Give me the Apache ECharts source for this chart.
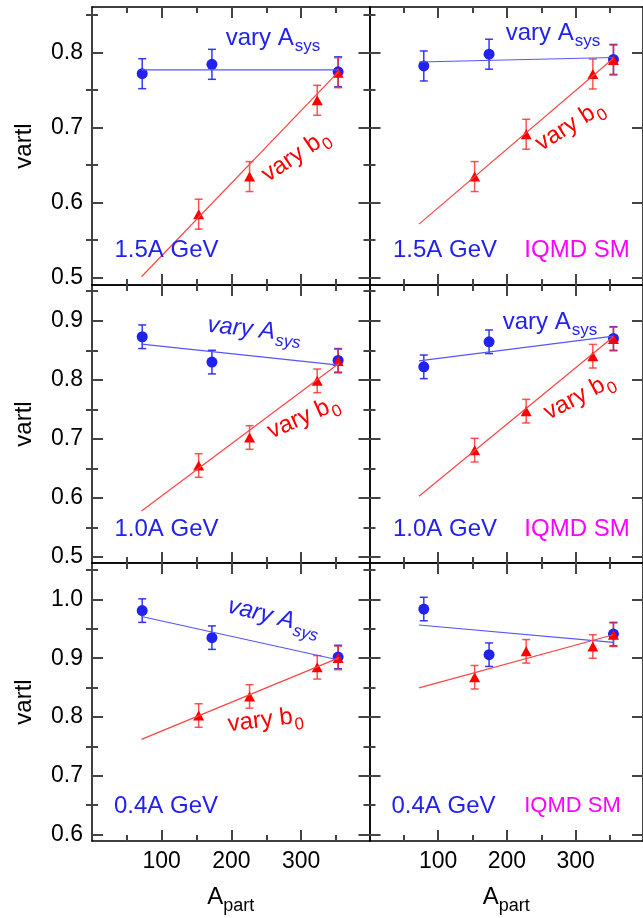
<!DOCTYPE html>
<html><head><meta charset="utf-8">
<script src="https://cdn.jsdelivr.net/npm/echarts@6/dist/echarts.min.js"></script>
<style>html,body{margin:0;padding:0;background:#fff}#c{width:643px;height:918px}</style>
</head><body><div id="c"></div>
<script>
// ---------------- data ----------------
// A_part positions of the points
const aSysXLeft  = [72, 172, 353];
const aSysXRight = [79, 174, 355];
const b0XLeft    = [153, 226, 323, 353];
const b0XRight   = [153, 228, 325, 355];
// end points of the straight fits
const fitXLeft  = [71, 354];
const fitXRight = [72, 355];

// 1.5A GeV
const aSys15   = [0.772, 0.7845, 0.7745];
const b015     = [0.5845, 0.6347, 0.7365, 0.7733];
const fitASys15 = [0.777, 0.777];
const fitB015   = [0.501, 0.775];
// 1.5A GeV, IQMD SM
const aSys15SM  = [0.7823, 0.798, 0.791];
const b015SM    = [0.6347, 0.6912, 0.7716, 0.7903];
const fitASys15SM = [0.7876, 0.7936];
const fitB015SM   = [0.5712, 0.7925];
// 1.0A GeV
const aSys10   = [0.8729, 0.830, 0.8329];
const b010     = [0.655, 0.7024, 0.7983, 0.8317];
const fitASys10 = [0.8605, 0.825];
const fitB010   = [0.578, 0.8278];
// 1.0A GeV, IQMD SM
const aSys10SM  = [0.822, 0.8644, 0.870];
const b010SM    = [0.681, 0.747, 0.840, 0.869];
const fitASys10SM = [0.8322, 0.874];
const fitB010SM   = [0.603, 0.873];
// 0.4A GeV
const aSys04   = [0.981, 0.935, 0.902];
const b004     = [0.8025, 0.835, 0.8845, 0.9005];
const fitASys04 = [0.971, 0.897];
const fitB004   = [0.762, 0.9005];
// 0.4A GeV, IQMD SM
const aSys04SM  = [0.9837, 0.906, 0.941];
const b004SM    = [0.8676, 0.9117, 0.92, 0.94];
const fitASys04SM = [0.9565, 0.927];
const fitB004SM   = [0.8496, 0.94];
// error bars (half widths)
const errASys = [0.02, 0.02, 0.02];
const errB0   = [0.02, 0.02, 0.02, 0.02];

// axis ticks
const xMajorTicks = [100, 200, 300];
const xMinorTicks = [50, 150, 250, 350];
const yMajorTicks = [[0.5, 0.6, 0.7, 0.8], [0.5, 0.6, 0.7, 0.8, 0.9], [0.6, 0.7, 0.8, 0.9, 1.0]];
const yMinorTicks = [[0.55, 0.65, 0.75, 0.85], [0.55, 0.65, 0.75, 0.85, 0.95], [0.65, 0.75, 0.85, 0.95, 1.05]];
const yRanges = [[0.49, 0.861], [0.49, 0.9605], [0.589, 1.062]];
const xRange = [0, 398];
const energyLabels = ['1.5A GeV', '1.0A GeV', '0.4A GeV'];
const modelLabel = 'IQMD SM';

// ---------------- layout / style ----------------
const FONT = '"Liberation Sans", Arial, Helvetica, sans-serif';
const BLUE = '#2222ee', RED = '#ff0000', MAGENTA = '#ff00ff';
const colLeft = [92, 369.5], colW = 277.5;
const rowTop = [7, 285, 563], rowH = 278;
const tickStyle = {color: '#444', width: 2};
const frameStyle = {color: '#000', width: 1.5};

const panels = [
  {r:0,c:0,aX:aSysXLeft,bX:b0XLeft,fX:fitXLeft,a:aSys15,b:b015,fa:fitASys15,fb:fitB015},
  {r:0,c:1,aX:aSysXRight,bX:b0XRight,fX:fitXRight,a:aSys15SM,b:b015SM,fa:fitASys15SM,fb:fitB015SM},
  {r:1,c:0,aX:aSysXLeft,bX:b0XLeft,fX:fitXLeft,a:aSys10,b:b010,fa:fitASys10,fb:fitB010},
  {r:1,c:1,aX:aSysXRight,bX:b0XRight,fX:fitXRight,a:aSys10SM,b:b010SM,fa:fitASys10SM,fb:fitB010SM},
  {r:2,c:0,aX:aSysXLeft,bX:b0XLeft,fX:fitXLeft,a:aSys04,b:b004,fa:fitASys04,fb:fitB004},
  {r:2,c:1,aX:aSysXRight,bX:b0XRight,fX:fitXRight,a:aSys04SM,b:b004SM,fa:fitASys04SM,fb:fitB004SM}
];

const grids = [], xAxes = [], yAxes = [], series = [];

panels.forEach((p, gi) => {
  grids.push({left: colLeft[p.c], top: rowTop[p.r], width: colW, height: rowH, containLabel: false});
  const [ymin, ymax] = yRanges[p.r];
  const xb = {gridIndex: gi, type: 'value', min: xRange[0], max: xRange[1], splitLine: {show: false}};
  const yb = {gridIndex: gi, type: 'value', min: ymin, max: ymax, splitLine: {show: false}};
  const xMainIdx = xAxes.length;
  const isBottom = p.r === 2;
  xAxes.push(Object.assign({}, xb, {
    position: 'bottom',
    axisLine: {show: true, onZero: false, lineStyle: frameStyle},
    axisTick: {show: true, inside: true, length: 11, customValues: xMajorTicks, lineStyle: tickStyle},
    axisLabel: {show: isBottom, customValues: xMajorTicks, margin: 9, fontSize: 23, color: '#000', fontFamily: FONT},
    name: isBottom ? '{a|A}{s|part}' : '',
    nameLocation: 'middle', nameGap: 48,
    nameTextStyle: {fontFamily: FONT, color: '#000', rich: {
      a: {fontSize: 24, fontFamily: FONT, color: '#000', lineHeight: 26, padding: [0, 0, 6, 0], verticalAlign: 'bottom'},
      s: {fontSize: 18, fontFamily: FONT, color: '#000', lineHeight: 18, verticalAlign: 'bottom'}
    }}
  }));
  xAxes.push(Object.assign({}, xb, {position: 'bottom', axisLine: {show: false},
    axisTick: {show: true, inside: true, length: 6, customValues: xMinorTicks, lineStyle: tickStyle}, axisLabel: {show: false}}));
  xAxes.push(Object.assign({}, xb, {position: 'top', axisLine: {show: true, onZero: false, lineStyle: frameStyle},
    axisTick: {show: true, inside: true, length: 11, customValues: xMajorTicks, lineStyle: tickStyle}, axisLabel: {show: false}}));
  xAxes.push(Object.assign({}, xb, {position: 'top', axisLine: {show: false},
    axisTick: {show: true, inside: true, length: 6, customValues: xMinorTicks, lineStyle: tickStyle}, axisLabel: {show: false}}));

  const yMainIdx = yAxes.length;
  const isLeft = p.c === 0;
  yAxes.push(Object.assign({}, yb, {
    position: 'left',
    axisLine: {show: true, onZero: false, lineStyle: frameStyle},
    axisTick: {show: true, inside: true, length: 11, customValues: yMajorTicks[p.r], lineStyle: tickStyle},
    axisLabel: {show: isLeft, customValues: yMajorTicks[p.r], margin: 9, fontSize: 23, color: '#000', fontFamily: FONT,
      formatter: v => Number(v).toFixed(1)},
    name: isLeft ? 'vartl' : '', nameLocation: 'middle', nameGap: 56,
    nameTextStyle: {fontSize: 24, fontFamily: FONT, color: '#000'}
  }));
  yAxes.push(Object.assign({}, yb, {position: 'left', axisLine: {show: false},
    axisTick: {show: true, inside: true, length: 6, customValues: yMinorTicks[p.r], lineStyle: tickStyle}, axisLabel: {show: false}}));
  yAxes.push(Object.assign({}, yb, {position: 'right', axisLine: {show: true, onZero: false, lineStyle: frameStyle},
    axisTick: {show: true, inside: true, length: 11, customValues: yMajorTicks[p.r], lineStyle: tickStyle}, axisLabel: {show: false}}));
  yAxes.push(Object.assign({}, yb, {position: 'right', axisLine: {show: false},
    axisTick: {show: true, inside: true, length: 6, customValues: yMinorTicks[p.r], lineStyle: tickStyle}, axisLabel: {show: false}}));

  const ax = {xAxisIndex: xMainIdx, yAxisIndex: yMainIdx};
  // fit lines
  series.push(Object.assign({type: 'line', symbol: 'none', silent: true, animation: false,
    data: p.fX.map((x, i) => [x, p.fa[i]]), lineStyle: {color: '#5555ff', width: 1.2}}, ax));
  series.push(Object.assign({type: 'line', symbol: 'none', silent: true, animation: false,
    data: p.fX.map((x, i) => [x, p.fb[i]]), lineStyle: {color: '#ff4444', width: 1.2}}, ax));
  // error bars
  const errSeries = (xs, ys, es, color) => Object.assign({
    type: 'custom', animation: false, silent: true,
    data: xs.map((x, i) => [x, ys[i] - es[i], ys[i] + es[i]]),
    encode: {x: 0, y: [1, 2]},
    renderItem: (params, api) => {
      const x = api.value(0);
      const p1 = api.coord([x, api.value(1)]), p2 = api.coord([x, api.value(2)]);
      const w = 4;
      const st = {stroke: color, lineWidth: 1.5};
      return {type: 'group', children: [
        {type: 'line', shape: {x1: p1[0], y1: p1[1], x2: p2[0], y2: p2[1]}, style: st},
        {type: 'line', shape: {x1: p1[0] - w, y1: p1[1], x2: p1[0] + w, y2: p1[1]}, style: st},
        {type: 'line', shape: {x1: p2[0] - w, y1: p2[1], x2: p2[0] + w, y2: p2[1]}, style: st}
      ]};
    }
  }, ax);
  series.push(errSeries(p.aX, p.a, errASys, 'rgba(34,34,238,0.9)'));
  series.push(Object.assign({type: 'scatter', symbol: 'circle', symbolSize: 11, animation: false,
    data: p.aX.map((x, i) => [x, p.a[i]]), itemStyle: {color: BLUE, opacity: 1}}, ax));
  series.push(errSeries(p.bX, p.b, errB0, 'rgba(255,40,40,0.8)'));
  series.push(Object.assign({type: 'scatter', symbol: 'triangle', symbolSize: [11, 10], animation: false,
    data: p.bX.map((x, i) => [x, p.b[i]]), itemStyle: {color: RED, opacity: 1}}, ax));
});

// ---------------- annotations ----------------
function richText(x, y, main, sub, color, opts) {
  opts = opts || {};
  const fs = opts.size || 22;
  return {
    type: 'text', x: x, y: y, rotation: (opts.rot || 0) * Math.PI / 180, z: 100,
    style: {
      text: sub ? '{m|' + main + '}{s|' + sub + '}' : '{m|' + main + '}',
      align: 'center', verticalAlign: 'middle',
      rich: {
        m: {fontSize: fs, fontFamily: FONT, fill: color, fontStyle: opts.italic ? 'italic' : 'normal',
            lineHeight: fs + 2, padding: [0, 0, sub ? 5 : 0, 0], verticalAlign: 'bottom'},
        s: {fontSize: Math.round(fs * 0.72), fontFamily: FONT, fill: color, fontStyle: opts.italic ? 'italic' : 'normal',
            lineHeight: Math.round(fs * 0.72), verticalAlign: 'bottom', padding: [0, 0, 0, 1]}
      }
    }
  };
}
const graphics = [
  richText(273, 42, 'vary A', 'sys', BLUE, {size: 24}),
  richText(298, 159, 'vary b', '0', RED, {rot: 34, size: 24}),
  richText(166.5, 249, energyLabels[0], '', BLUE, {size: 24}),
  richText(553, 37, 'vary A', 'sys', BLUE, {size: 24}),
  richText(572, 129, 'vary b', '0', RED, {rot: 32, size: 24}),
  richText(445, 249, energyLabels[0], '', BLUE, {size: 24}),
  richText(577, 249, modelLabel, '', MAGENTA, {size: 24}),
  richText(254, 334, 'vary A', 'sys', BLUE, {italic: true, rot: -6, size: 24}),
  richText(305, 421, 'vary b', '0', RED, {rot: 24, size: 24}),
  richText(166.5, 528.5, energyLabels[1], '', BLUE, {size: 24}),
  richText(550, 326, 'vary A', 'sys', BLUE, {size: 24}),
  richText(581, 400, 'vary b', '0', RED, {rot: 28, size: 24}),
  richText(445, 528, energyLabels[1], '', BLUE, {size: 24}),
  richText(577, 528, modelLabel, '', MAGENTA, {size: 24}),
  richText(273, 621, 'vary A', 'sys', BLUE, {italic: true, rot: -14, size: 24}),
  richText(266, 724, 'vary b', '0', RED, {rot: 7, size: 24}),
  richText(166, 805, energyLabels[2], '', BLUE, {size: 24}),
  richText(443.5, 805, energyLabels[2], '', BLUE, {size: 24}),
  richText(572.5, 805, modelLabel, '', MAGENTA, {size: 22})
];

const chart = echarts.init(document.getElementById('c'), null, {renderer: 'canvas'});
chart.setOption({
  animation: false,
  backgroundColor: '#fff',
  grid: grids, xAxis: xAxes, yAxis: yAxes, series: series,
  graphic: graphics
});
</script>
</body></html>
